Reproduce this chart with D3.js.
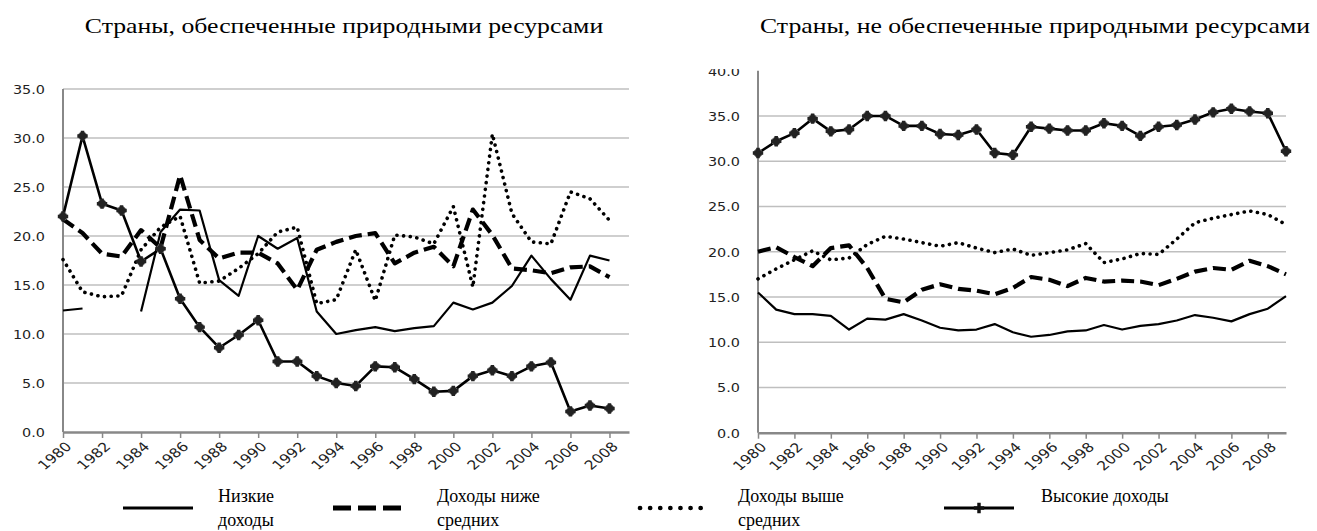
<!DOCTYPE html>
<html>
<head>
<meta charset="utf-8">
<script src="https://cdn.jsdelivr.net/npm/d3@7"></script>
<style>
  body { margin: 0; background: #fff; }
</style>
</head>
<body>
<script>
// categories
const yearsLeft = [1980, 1981, 1982, 1983, 1984, 1985, 1986, 1987, 1988, 1989,
  1990, 1991, 1992, 1993, 1994, 1995, 1996, 1997, 1998, 1999,
  2000, 2001, 2002, 2003, 2004, 2005, 2006, 2007, 2008];
const yearsRight = [1980, 1981, 1982, 1983, 1984, 1985, 1986, 1987, 1988, 1989,
  1990, 1991, 1992, 1993, 1994, 1995, 1996, 1997, 1998, 1999,
  2000, 2001, 2002, 2003, 2004, 2005, 2006, 2007, 2008, 2009];
const tickYears = [1980, 1982, 1984, 1986, 1988, 1990, 1992, 1994, 1996, 1998,
  2000, 2002, 2004, 2006, 2008];
const gridLeft = [5, 10, 15, 20, 25, 30, 35];
const labelsLeft = [0, 5, 10, 15, 20, 25, 30, 35];
const gridRight = [5, 10, 15, 20, 25, 30, 35];
const labelsRight = [0, 5, 10, 15, 20, 25, 30, 35, 40];

// Страны, обеспеченные природными ресурсами
const leftLow = [12.4, 12.6, null, null, 12.3, 20.4, 22.7, 22.6, 15.5, 13.9,
  20.0, 18.7, 19.8, 12.3, 10.0, 10.4, 10.7, 10.3, 10.6, 10.8,
  13.2, 12.5, 13.2, 14.9, 18.0, 15.6, 13.5, 18.0, 17.5];
const leftLowerMid = [21.7, 20.3, 18.2, 17.9, 20.6, 18.8, 26.2, 19.6, 17.7, 18.3,
  18.3, 17.2, 14.5, 18.6, 19.4, 20.0, 20.3, 17.2, 18.3, 18.9,
  16.9, 22.7, 20.1, 16.7, 16.5, 16.2, 16.8, 16.9, 15.8];
const leftUpperMid = [17.6, 14.3, 13.8, 13.9, 18.6, 20.9, 22.0, 15.2, 15.4, 16.7,
  18.2, 20.4, 20.9, 13.1, 13.5, 18.6, 13.4, 20.1, 19.9, 19.2,
  23.0, 14.8, 30.4, 22.3, 19.4, 19.2, 24.5, 23.8, 21.6];
const leftHigh = [22.0, 30.2, 23.3, 22.6, 17.4, 18.7, 13.6, 10.7, 8.6, 9.9,
  11.4, 7.2, 7.2, 5.7, 5.0, 4.7, 6.7, 6.6, 5.4, 4.1,
  4.2, 5.7, 6.3, 5.7, 6.7, 7.1, 2.1, 2.7, 2.4];

// Страны, не обеспеченные природными ресурсами
const rightLow = [15.5, 13.6, 13.1, 13.1, 12.9, 11.4, 12.6, 12.5, 13.1, 12.4,
  11.6, 11.3, 11.4, 12.0, 11.1, 10.6, 10.8, 11.2, 11.3, 11.9,
  11.4, 11.8, 12.0, 12.4, 13.0, 12.7, 12.3, 13.1, 13.7, 15.1];
const rightLowerMid = [20.0, 20.5, 19.4, 18.4, 20.4, 20.7, 18.2, 14.8, 14.4, 15.8,
  16.4, 15.9, 15.7, 15.3, 16.0, 17.2, 16.9, 16.2, 17.1, 16.7,
  16.8, 16.7, 16.3, 17.0, 17.8, 18.2, 18.0, 19.0, 18.4, 17.5];
const rightUpperMid = [17.0, 18.1, 19.1, 20.1, 19.1, 19.3, 20.8, 21.7, 21.4, 21.0,
  20.6, 21.0, 20.4, 19.9, 20.3, 19.6, 19.9, 20.2, 20.9, 18.8,
  19.2, 19.8, 19.7, 21.4, 23.2, 23.7, 24.1, 24.5, 24.1, 23.0];
const rightHigh = [30.9, 32.2, 33.1, 34.7, 33.3, 33.5, 35.0, 35.0, 33.9, 33.9,
  33.0, 32.9, 33.5, 30.9, 30.7, 33.8, 33.6, 33.4, 33.4, 34.2,
  33.9, 32.8, 33.8, 34.0, 34.6, 35.4, 35.8, 35.5, 35.3, 31.1];

const seriesNames = ['Низкие доходы', 'Доходы ниже средних', 'Доходы выше средних', 'Высокие доходы'];
const legendLines = [['Низкие', 'доходы'], ['Доходы ниже', 'средних'], ['Доходы выше', 'средних'], ['Высокие доходы']];

const styles = [
  { width: 2.2, dash: null, cap: 'butt' },
  { width: 4.2, dash: '13,6', cap: 'butt' },
  { width: 3.6, dash: '0.1,6.6', cap: 'round' },
  { width: 2.6, dash: null, cap: 'butt', marker: true }
];

const svg = d3.select('body').append('svg')
  .attr('width', 1317)
  .attr('height', 531)
  .attr('viewBox', '0 0 1317 531');

const marker = d3.symbol().type(d3.symbolCross).size(60);

function drawPanel(p) {
  const g = svg.append('g');
  const x = d3.scaleLinear().domain([1980, 2009]).range([p.left, p.right]);
  const y = d3.scaleLinear().domain([0, p.yMax]).range([p.bottom, p.top]);

  g.selectAll('line.grid').data(p.grid).join('line')
    .attr('class', 'grid')
    .attr('x1', p.left).attr('x2', p.right)
    .attr('y1', d => y(d)).attr('y2', d => y(d))
    .attr('stroke', '#bfbfbf').attr('stroke-width', 1.5);

  // y axis, top label of the right panel is cut like in the source
  const clipId = 'clip' + p.left;
  svg.append('clipPath').attr('id', clipId)
    .append('rect').attr('x', -p.left).attr('y', p.clipTop).attr('width', p.left).attr('height', 500);
  g.append('g')
    .attr('transform', `translate(${p.left},0)`)
    .attr('clip-path', `url(#${clipId})`)
    .call(d3.axisLeft(y).tickValues(p.labels).tickSize(0).tickFormat(d3.format('.1f')))
    .call(a => a.select('.domain').remove())
    .call(a => a.selectAll('text')
      .attr('x', 0).attr('dy', '0.36em')
      .attr('transform', 'translate(-18,0) scale(1.2,1)')
      .attr('font-family', 'DejaVu Sans').attr('font-size', 12).attr('fill', '#222'));
  g.append('line')
    .attr('x1', p.left).attr('x2', p.left)
    .attr('y1', p.bottom).attr('y2', p.top)
    .attr('stroke', '#888').attr('stroke-width', 2);

  // x axis
  g.append('g')
    .attr('transform', `translate(0,${p.bottom})`)
    .call(d3.axisBottom(x).tickValues(tickYears).tickSize(6).tickSizeOuter(0).tickFormat(d3.format('d')))
    .call(a => a.select('.domain').attr('stroke', '#888').attr('stroke-width', 2.5))
    .call(a => a.selectAll('.tick line').attr('stroke', '#888').attr('stroke-width', 1.5))
    .call(a => a.selectAll('text')
      .attr('x', 0).attr('y', 0).attr('dy', '0.36em')
      .attr('text-anchor', 'end')
      .attr('transform', 'translate(5,12) scale(1.2,1) rotate(-45)')
      .attr('font-family', 'DejaVu Sans').attr('font-size', 13).attr('fill', '#222'));

  const line = d3.line()
    .defined(d => d.v != null)
    .x(d => x(d.year))
    .y(d => y(d.v));

  p.series.forEach((vals, i) => {
    const data = p.years.map((yr, j) => ({ year: yr, v: vals[j] }));
    const st = styles[i];
    g.append('path')
      .datum(data)
      .attr('d', line)
      .attr('fill', 'none')
      .attr('stroke', '#000')
      .attr('stroke-width', st.width)
      .attr('stroke-dasharray', st.dash)
      .attr('stroke-linecap', st.cap)
      .attr('stroke-linejoin', 'round');
    if (st.marker) {
      const m = g.selectAll(null).data(data).join('g')
        .attr('transform', d => `translate(${x(d.year)},${y(d.v)})`);
      m.append('circle').attr('r', 4.2).attr('fill', '#222').attr('stroke', '#777').attr('stroke-width', 0.8);
      m.append('path').attr('d', marker).attr('fill', '#222');
    }
  });

  svg.append('text')
    .attr('transform', `translate(${p.titleX},33) scale(1.17,1)`)
    .attr('text-anchor', 'middle')
    .attr('font-family', 'Liberation Serif')
    .attr('font-size', 22)
    .attr('fill', '#000')
    .text(p.title);
}

drawPanel({
  title: 'Страны, обеспеченные природными ресурсами',
  titleX: 344,
  left: 63, right: 629, bottom: 432, top: 89, yMax: 35, clipTop: 0,
  grid: gridLeft, labels: labelsLeft, years: yearsLeft,
  series: [leftLow, leftLowerMid, leftUpperMid, leftHigh]
});

drawPanel({
  title: 'Страны, не обеспеченные природными ресурсами',
  titleX: 1035,
  left: 758, right: 1286, bottom: 432.7, top: 70.7, yMax: 40, clipTop: 69,
  grid: gridRight, labels: labelsRight, years: yearsRight,
  series: [rightLow, rightLowerMid, rightUpperMid, rightHigh]
});

// legend
const legendX = [{ line: 123, text: 218 }, { line: 333, text: 437 }, { line: 640, text: 738 }, { line: 944, text: 1041 }];
const lg = svg.append('g');
seriesNames.forEach((name, i) => {
  const st = styles[i];
  const lx = legendX[i];
  lg.append('line')
    .attr('x1', lx.line).attr('x2', lx.line + 70)
    .attr('y1', 508).attr('y2', 508)
    .attr('stroke', '#000')
    .attr('stroke-width', st.marker ? 3 : st.width + 1)
    .attr('stroke-dasharray', st.dash ? (i === 1 ? '18,7' : '0.1,10') : null)
    .attr('stroke-linecap', st.cap);
  if (st.marker) {
    lg.append('path').attr('d', marker).attr('transform', `translate(${lx.line + 35},508)`).attr('fill', '#111');
  }
  const t = lg.append('text')
    .attr('font-family', 'Liberation Serif')
    .attr('font-size', 18)
    .attr('fill', '#000');
  legendLines[i].forEach((s, k) => {
    t.append('tspan').attr('x', lx.text).attr('y', 502 + k * 24).text(s);
  });
});
</script>
</body>
</html>
